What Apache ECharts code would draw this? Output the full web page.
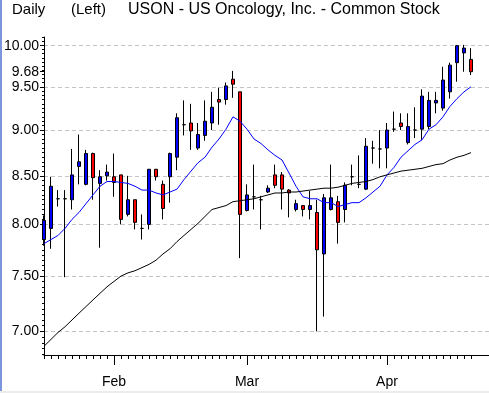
<!DOCTYPE html>
<html><head><meta charset="utf-8">
<script src="https://cdn.jsdelivr.net/npm/echarts@6/dist/echarts.min.js"></script>
<style>html,body{margin:0;padding:0;background:#fff}#c{width:489px;height:393px}</style>
</head><body><div id="c"></div><script>
// ---- data ----
const categories = [
 '01/18','01/19','01/22','01/23','01/24','01/25','01/26','01/29','01/30','01/31',
 '02/01','02/02','02/05','02/06','02/07','02/08','02/09','02/12','02/13','02/14','02/15','02/16','02/20','02/21','02/22','02/23','02/26','02/27','02/28',
 '03/01','03/02','03/05','03/06','03/07','03/08','03/09','03/12','03/13','03/14','03/15','03/16','03/19','03/20','03/21','03/22','03/23','03/26','03/27','03/28',
 '04/02','04/03','04/04','04/05','04/06','04/09','04/10','04/11','04/12','04/16','04/17','04/18','04/19'
];
const padCategories = [' ', '  ', '   '];
const monthStartIdx = [10, 29, 49];
const monthLabels = ['Feb', 'Mar', 'Apr'];

const openP  = [7.85,7.96,8.26,8.26,8.25,8.60,8.41,8.74,8.42,8.50,8.49,8.51,8.10,8.25,7.96,8.00,8.57,8.41,8.49,8.70,
                9.06,9.08,8.80,8.94,9.08,9.35,9.35,9.59,9.44,8.14,8.28,8.25,8.33,8.51,8.51,8.35,8.15,8.19,8.15,8.12,
                7.71,8.15,8.23,8.15,8.49,8.41,8.36,8.80,8.79,8.80,9.01,9.08,8.86,9.00,9.01,9.04,9.31,9.25,9.44,9.79,
                9.91,9.83];
const highP  = [8.09,8.49,8.35,8.35,8.79,8.95,8.78,8.75,8.56,8.62,8.74,8.51,8.50,8.25,8.10,8.57,8.57,8.45,8.75,9.19,
                9.34,9.30,9.08,9.34,9.44,9.49,9.55,9.69,9.44,8.41,8.62,8.29,8.40,8.62,8.54,8.36,8.25,8.19,8.34,8.25,
                8.31,8.62,8.29,8.43,8.62,8.72,8.91,8.88,9.00,9.08,9.21,9.19,9.19,9.26,9.47,9.44,9.44,9.74,9.79,10.01,
                10.01,9.97];
const lowP   = [7.79,7.76,8.18,7.49,8.15,8.41,8.40,8.25,7.77,8.45,8.28,8.00,8.08,7.95,7.85,7.95,8.45,8.05,8.22,8.56,
                8.94,8.78,8.78,8.88,9.00,9.06,9.29,9.37,7.67,8.13,8.15,7.95,8.32,8.37,8.15,8.07,8.13,8.08,8.05,7.00,
                7.13,8.14,7.81,8.02,8.40,8.37,8.35,8.63,8.58,8.58,8.98,9.00,8.84,8.91,8.89,9.01,9.19,9.22,9.36,9.56,
                9.68,9.64];
const closeP = [8.04,8.39,8.26,8.26,8.51,8.65,8.74,8.48,8.49,8.54,8.43,8.05,8.25,8.02,7.96,8.57,8.49,8.16,8.74,9.14,
                9.06,8.99,8.95,9.10,9.26,9.32,9.51,9.53,8.10,8.30,8.28,8.25,8.37,8.40,8.36,8.32,8.21,8.15,8.19,7.75,
                8.27,8.27,8.02,8.40,8.49,8.41,8.82,8.80,8.79,9.00,9.01,9.04,9.04,9.00,9.39,9.34,9.34,9.58,9.76,10.00,
                9.97,9.68];
const maShort = [7.81,7.85,7.89,7.96,8.05,8.12,8.21,8.30,8.39,8.44,8.44,8.43,8.42,8.39,8.35,8.35,8.32,8.30,8.33,8.36,
                 8.46,8.55,8.64,8.70,8.81,8.90,9.01,9.15,9.10,9.01,8.90,8.85,8.78,8.72,8.67,8.53,8.39,8.28,8.26,8.26,
                 8.22,8.22,8.18,8.20,8.22,8.22,8.27,8.33,8.39,8.51,8.59,8.70,8.77,8.84,8.89,9.01,9.06,9.15,9.27,9.36,
                 9.44,9.50];
const maLong  = [6.87,6.93,6.99,7.04,7.10,7.16,7.22,7.28,7.34,7.40,7.45,7.50,7.53,7.55,7.58,7.61,7.65,7.71,7.76,7.83,
                 7.89,7.95,8.01,8.08,8.15,8.17,8.19,8.23,8.24,8.25,8.26,8.28,8.30,8.32,8.32,8.33,8.33,8.34,8.35,8.36,
                 8.37,8.37,8.38,8.40,8.42,8.43,8.44,8.46,8.49,8.51,8.53,8.55,8.56,8.57,8.58,8.60,8.62,8.63,8.67,8.70,
                 8.72,8.75];
const yLabelValues = [7.00, 7.50, 8.00, 8.50, 9.00, 9.50, 9.68, 10.00];
const yGridValues  = [7.00, 7.50, 8.00, 8.50, 9.00, 9.50, 10.00];
const yMin = 6.796, yMax = 10.109;

// minor tick positions every 0.05 (axis decoration)
const yMinorValues = [];
for (let k = 136; k <= 202; k++) yMinorValues.push(+(k * 0.05).toFixed(2));

const candleData = openP.map((o, i) => [o, closeP[i], lowP[i], highP[i]]);
const allCats = categories.concat(padCategories);
const FONT = 'Liberation Sans';

const chart = echarts.init(document.getElementById('c'), null, {renderer: 'canvas'});
chart.setOption({
  animation: false,
  backgroundColor: '#ffffff',
  title: [
    {text: 'Daily', left: 12, top: 2, padding: 0, textStyle: {fontSize: 15, fontWeight: 'normal', color: '#000', fontFamily: FONT}},
    {text: '(Left)', left: 71, top: 2, padding: 0, textStyle: {fontSize: 15, fontWeight: 'normal', color: '#000', fontFamily: FONT}},
    {text: 'USON - US Oncology, Inc. - Common Stock', left: 128, top: 2, padding: 0, textStyle: {fontSize: 16, fontWeight: 'normal', color: '#000', fontFamily: FONT}}
  ],
  graphic: [
    {type: 'rect', left: 0, top: 0, shape: {width: 2, height: 393}, style: {fill: '#7b96dc'}, silent: true},
    {type: 'rect', left: 0, top: 391, shape: {width: 489, height: 2}, style: {fill: '#ececec'}, silent: true}
  ],
  grid: {left: 44, top: 37, width: 448, height: 318, containLabel: false, outerBoundsMode: 'none'},
  xAxis: [
    {type: 'category', data: allCats, boundaryGap: false,
     axisLine: {show: true, lineStyle: {color: '#000', width: 1}},
     axisTick: {show: true, length: 4, interval: (i) => i < categories.length, lineStyle: {color: '#000'}},
     axisLabel: {show: false}, splitLine: {show: false}},
    {type: 'category', data: allCats, boundaryGap: false, position: 'bottom',
     axisLine: {show: false},
     axisTick: {show: true, length: 10, interval: (i) => monthStartIdx.includes(i), lineStyle: {color: '#000'}},
     axisLabel: {show: true, interval: (i) => monthStartIdx.includes(i),
       formatter: (v, i) => { const k = monthStartIdx.indexOf(i); return k >= 0 ? monthLabels[k] : ''; },
       color: '#000', fontSize: 14, fontFamily: FONT, margin: 20},
     splitLine: {show: false}}
  ],
  yAxis: [
    {type: 'log', logBase: 10, min: yMin, max: yMax, position: 'left',
     axisLine: {show: true, lineStyle: {color: '#000', width: 1}},
     axisTick: {show: true, length: 4, customValues: yLabelValues, lineStyle: {color: '#000'}},
     axisLabel: {show: true, customValues: yLabelValues, formatter: (v) => Number(v).toFixed(2),
       color: '#000', fontSize: 14, fontFamily: FONT, margin: 5, hideOverlap: false},
     splitLine: {show: false}},
    {type: 'log', logBase: 10, min: yMin, max: yMax, position: 'left',
     axisLine: {show: false},
     axisTick: {show: false, customValues: yGridValues},
     axisLabel: {show: false, customValues: yGridValues},
     splitLine: {show: true, lineStyle: {color: '#c4c4c4', width: 1, type: [4, 3]}}},
    {type: 'log', logBase: 10, min: yMin, max: yMax, position: 'left',
     axisLine: {show: false},
     axisTick: {show: true, length: 2, customValues: yMinorValues, lineStyle: {color: '#000'}},
     axisLabel: {show: false},
     splitLine: {show: false}}
  ],
  series: [
    {type: 'candlestick', name: 'USON', xAxisIndex: 0, yAxisIndex: 0, data: candleData, barWidth: 4,
     itemStyle: {color: '#0000ff', color0: '#ff0000', borderColor: '#000', borderColor0: '#000', borderColorDoji: '#000', borderWidth: 1}},
    {type: 'line', name: 'MA short', xAxisIndex: 0, yAxisIndex: 0, data: maShort, showSymbol: false, symbol: 'none',
     lineStyle: {color: '#0000ff', width: 1}},
    {type: 'line', name: 'MA long', xAxisIndex: 0, yAxisIndex: 0, data: maLong, showSymbol: false, symbol: 'none',
     lineStyle: {color: '#000', width: 1}}
  ]
});
</script></body></html>
